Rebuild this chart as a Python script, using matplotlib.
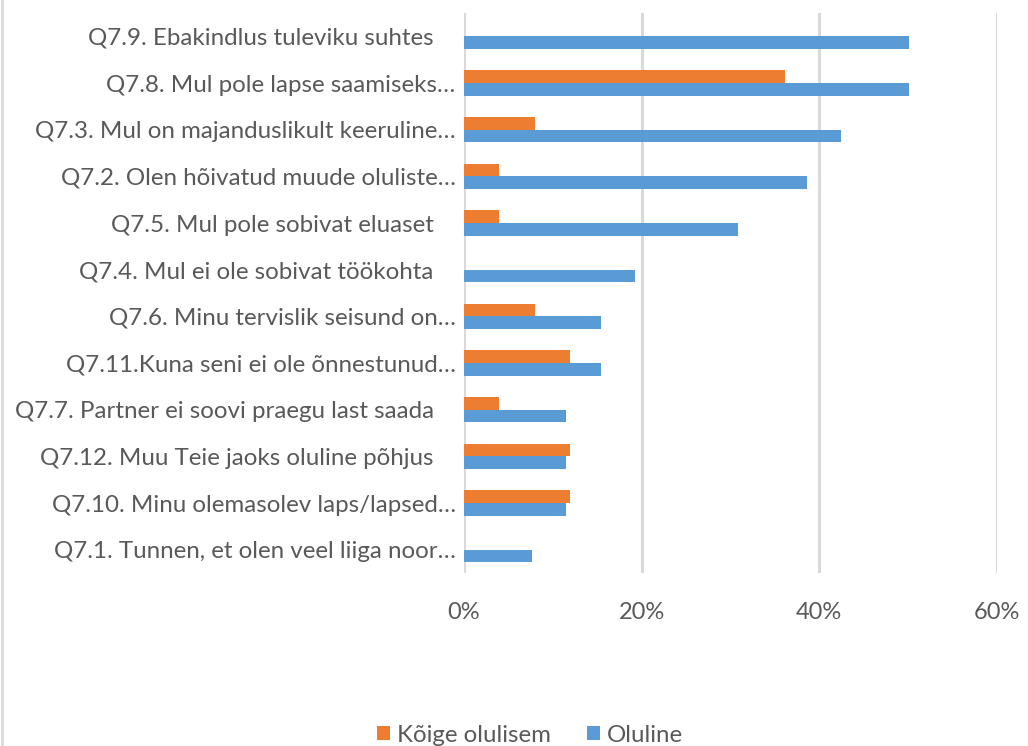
import matplotlib.pyplot as plt
import matplotlib.transforms as mtransforms
from matplotlib.lines import Line2D
from matplotlib.ticker import PercentFormatter
import numpy as np

# Data, top to bottom as in the chart
categories = [
    "Q7.9. Ebakindlus tuleviku suhtes",
    "Q7.8. Mul pole lapse saamiseks…",
    "Q7.3. Mul on majanduslikult keeruline…",
    "Q7.2. Olen hõivatud muude oluliste…",
    "Q7.5. Mul pole sobivat eluaset",
    "Q7.4. Mul ei ole sobivat töökohta",
    "Q7.6. Minu tervislik seisund on…",
    "Q7.11.Kuna seni ei ole õnnestunud…",
    "Q7.7. Partner ei soovi praegu last saada",
    "Q7.12. Muu Teie jaoks oluline põhjus",
    "Q7.10. Minu olemasolev laps/lapsed…",
    "Q7.1. Tunnen, et olen veel liiga noor…",
]
koige_olulisem = [0, 36.1, 8.0, 3.9, 3.9, 0, 8.0, 11.9, 3.9, 11.9, 11.9, 0]
oluline = [50.1, 50.1, 42.4, 38.6, 30.9, 19.2, 15.4, 15.4, 11.5, 11.5, 11.5, 7.7]
series_names = ["Kõige olulisem", "Oluline"]
x_ticks = [0, 20, 40, 60]

ORANGE = "#ED7D31"
BLUE = "#5B9BD5"
TEXT = "#595959"
GRID = "#D9D9D9"

plt.rcParams["font.family"] = ["Lato", "DejaVu Sans"]

fig = plt.figure(figsize=(10.28, 7.46), dpi=100)
ax = fig.add_axes([464 / 1028, 1 - 573 / 746, (997 - 464) / 1028, (573 - 13) / 746])

y = np.arange(len(categories))
h = 0.27
ax.barh(y - h / 2, koige_olulisem, height=h, color=ORANGE, label=series_names[0], zorder=3)
ax.barh(y + h / 2, oluline, height=h, color=BLUE, label=series_names[1], zorder=3)

ax.set_ylim(len(categories) - 0.5, -0.5)
ax.set_xlim(0, 60)
ax.set_xticks(x_ticks)
ax.xaxis.set_major_formatter(PercentFormatter(decimals=0))
ax.set_yticks(y)
ax.set_yticklabels(categories)

ax.grid(axis="x", color=GRID, linewidth=2.2, zorder=0)
for s in ax.spines.values():
    s.set_visible(False)
ax.tick_params(axis="both", length=0, colors=TEXT)
ax.tick_params(axis="x", pad=21, labelsize=17)
ax.tick_params(axis="y", pad=6, labelsize=17.4)

# labels not cut with an ellipsis sit a bit further left
shift = mtransforms.ScaledTranslation(-0.22, 0, fig.dpi_scale_trans)
for lab in ax.get_yticklabels():
    if not lab.get_text().endswith("…"):
        lab.set_transform(lab.get_transform() + shift)

# left border of the chart frame
fig.add_artist(Line2D([2 / 1028, 2 / 1028], [0, 1], color=GRID, linewidth=2))

fig.legend(loc="center", bbox_to_anchor=(530 / 1028, 1 - 735 / 746), ncol=2,
           frameon=False, fontsize=17.3, labelcolor=TEXT, handlelength=0.55,
           handleheight=0.55, handletextpad=0.3, columnspacing=1.5)

fig.savefig("out.png", dpi=100)
